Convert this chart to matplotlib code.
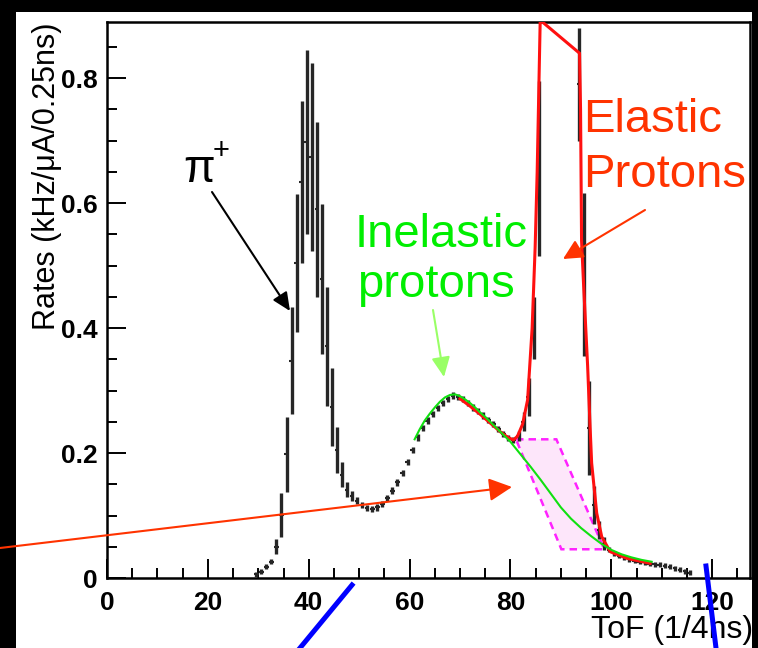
import numpy as np
import matplotlib
matplotlib.use("Agg")
import matplotlib.pyplot as plt
from matplotlib.patches import Rectangle, Polygon
from matplotlib.lines import Line2D
from matplotlib.ticker import MultipleLocator

plt.rcParams['font.family'] = ['Liberation Sans', 'DejaVu Sans']

# ---- data ----
# bin centres (1/4 ns bins)
tof_bins = np.arange(29, 116) + 0.6

rates = [0.006, 0.010, 0.018, 0.026, 0.050, 0.101, 0.198, 0.348, 0.504, 0.634,
         0.698, 0.674, 0.590, 0.478, 0.371, 0.274, 0.205, 0.165, 0.141, 0.131,
         0.124, 0.117, 0.112, 0.110, 0.113, 0.119, 0.128, 0.140, 0.153, 0.168,
         0.186, 0.205, 0.225, 0.240, 0.252, 0.262, 0.272, 0.280, 0.287, 0.292,
         0.290, 0.286, 0.280, 0.273, 0.267, 0.260, 0.253, 0.246, 0.238, 0.231,
         0.224, 0.221, 0.228, 0.250, 0.290, 0.400, 0.655,
         np.nan, np.nan, np.nan, np.nan, np.nan, np.nan, np.nan,   # off scale
         0.790, 0.486, 0.240, 0.117, 0.077, 0.055, 0.045, 0.040, 0.036, 0.033,
         0.030, 0.028, 0.026, 0.025, 0.023, 0.022, 0.021, 0.020, 0.018, 0.016,
         0.0135, 0.011, 0.0085]

rate_err = [0.004, 0.004, 0.004, 0.004, 0.012, 0.035, 0.060, 0.085, 0.110, 0.130,
            0.147, 0.150, 0.140, 0.120, 0.095, 0.062, 0.037, 0.020, 0.012, 0.008,
            0.005, 0.005, 0.005, 0.005, 0.005, 0.005, 0.005, 0.005, 0.005, 0.005,
            0.005, 0.005, 0.005, 0.005, 0.005, 0.005, 0.005, 0.005, 0.005, 0.005,
            0.005, 0.005, 0.005, 0.005, 0.005, 0.005, 0.005, 0.005, 0.005, 0.005,
            0.005, 0.005, 0.008, 0.015, 0.030, 0.050, 0.140,
            np.nan, np.nan, np.nan, np.nan, np.nan, np.nan, np.nan,
            0.090, 0.130, 0.075, 0.030, 0.015, 0.010, 0.004, 0.004, 0.004, 0.004,
            0.004, 0.004, 0.004, 0.004, 0.004, 0.004, 0.004, 0.004, 0.004, 0.004,
            0.004, 0.004, 0.004]

# elastic fit (red)
elastic_x = [70, 72, 74, 76, 78, 79.5, 80.6, 81.4, 82.4, 83.4, 84.3, 84.9, 85.3, 85.9,
             93.7, 93.9, 94.1, 94.5, 95.3, 95.8, 96.1, 97.1, 98.1, 99.8, 103.1, 107.7]
elastic_y = [0.287, 0.275, 0.262, 0.248, 0.234, 0.225, 0.221, 0.227, 0.246, 0.285, 0.40,
             0.53, 0.65, 0.893, 0.84, 0.75, 0.54, 0.47, 0.34, 0.24, 0.184, 0.104,
             0.066, 0.042, 0.0315, 0.0235]

# inelastic fit (green)
inel_x = [61, 62, 63, 64, 65, 66, 67, 68, 69, 70, 71, 72, 73, 74, 75, 76, 77, 78, 79, 80,
          82, 84, 86, 88, 90, 92, 94, 96, 98, 100, 102, 104, 106, 108]
inel_y = [0.222, 0.238, 0.252, 0.263, 0.273, 0.282, 0.289, 0.293, 0.294, 0.291, 0.286,
          0.280, 0.273, 0.265, 0.258, 0.250, 0.242, 0.234, 0.226, 0.218, 0.198, 0.178,
          0.157, 0.135, 0.113, 0.095, 0.080, 0.067, 0.055, 0.045, 0.038, 0.033, 0.029,
          0.026]

# uncertainty band under the elastic peak (magenta)
band_x = [81.1, 89.1, 98.6, 90.1]
band_y = [0.222, 0.222, 0.046, 0.046]

W, H = 758, 648


def fx(x):
    return x / W


def fy(y):
    return 1 - y / H


fig = plt.figure(figsize=(W / 100, H / 100), dpi=100)
fig.patch.set_facecolor("black")
fig.add_artist(Rectangle((16 / W, 0), 736 / W, 636 / H, transform=fig.transFigure,
                         facecolor="white", edgecolor="none", zorder=-5))

ax = fig.add_axes([107 / W, 70 / H, 643 / W, 556 / H])
ax.set_xlim(0, 127.5)
ax.set_ylim(0, 0.89)

# band
ax.add_patch(Polygon(list(zip(band_x, band_y)), closed=True, facecolor="#fde6fa",
                     edgecolor="#ff22ff", linestyle=(0, (3, 2)), lw=1.8, zorder=2))

# data (ROOT style crosses)
ax.errorbar(tof_bins, rates, yerr=rate_err, fmt="none", ecolor="#262626",
            elinewidth=2.4, capsize=0, zorder=3)
ax.errorbar(tof_bins, rates, xerr=0.45, fmt="none", ecolor="#262626",
            elinewidth=1.5, capsize=0, zorder=3)

# fits
ax.plot(elastic_x, elastic_y, color="#ff1010", lw=2.2, zorder=4)
ax.plot(inel_x, inel_y, color="#10e010", lw=1.5, zorder=5)

# axes style
for s in ax.spines.values():
    s.set_linewidth(1.8)
ax.xaxis.set_major_locator(MultipleLocator(20))
ax.xaxis.set_minor_locator(MultipleLocator(5))
ax.yaxis.set_major_locator(MultipleLocator(0.2))
ax.yaxis.set_minor_locator(MultipleLocator(0.05))
ax.tick_params(which="both", direction="in", top=False, right=False, width=1.4,
               labelsize=19)
ax.tick_params(which="major", length=14)
ax.tick_params(which="minor", length=7)
ax.tick_params(axis="x", pad=9)
ax.tick_params(axis="y", pad=7)
ax.set_yticks([0, 0.2, 0.4, 0.6, 0.8])
ax.set_yticklabels(["0", "0.2", "0.4", "0.6", "0.8"], fontweight="bold")
ax.set_xticks([0, 20, 40, 60, 80, 100, 120])
ax.set_xticklabels(["0", "20", "40", "60", "80", "100", "120"], fontweight="bold")

# axis titles
fig.text(fx(47), fy(22), "Rates (kHz/\u03bcA/0.25ns)", rotation=90, ha="center", va="top",
         fontsize=22)
fig.text(fx(753), fy(638), "ToF (1/4ns)", ha="right", va="baseline", fontsize=23)

# labels
fig.text(fx(183), fy(182), "\u03c0", fontsize=33, color="black", va="baseline")
fig.text(fx(213), fy(159), "+", fontsize=21, color="black", va="baseline")
fig.text(fx(355), fy(247), "Inelastic", fontsize=34, color="#00ee00", va="baseline")
fig.text(fx(357), fy(297), "protons", fontsize=34, color="#00ee00", va="baseline")
fig.text(fx(583), fy(132), "Elastic", fontsize=34, color="#ff3300", va="baseline")
fig.text(fx(583), fy(187), "Protons", fontsize=34, color="#ff3300", va="baseline")


def arrow(x0, y0, x1, y1, color, lw=1.5, hl=0.55, hw=0.25):
    ax.annotate("", xy=(fx(x1), fy(y1)), xycoords="figure fraction",
                xytext=(fx(x0), fy(y0)), textcoords="figure fraction",
                arrowprops=dict(arrowstyle="-|>,head_length=%s,head_width=%s" % (hl, hw),
                                color=color, lw=lw, shrinkA=0, shrinkB=0,
                                mutation_scale=20),
                annotation_clip=False, zorder=6)


arrow(212, 192, 290, 311, "black")
arrow(433, 310, 444, 377, "#99ff66", hl=0.6, hw=0.28)
arrow(645, 210, 563, 259, "#ff3300", hl=0.6, hw=0.3)
arrow(0, 548, 512, 487, "#ff3300", hl=0.7, hw=0.35)

# blue strokes
fig.add_artist(Line2D([fx(300), fx(352)], [fy(648), fy(585)], transform=fig.transFigure,
                      color="#0000ff", lw=3.6, zorder=10))
fig.add_artist(Line2D([fx(706), fx(716)], [fy(566), fy(648)], transform=fig.transFigure,
                      color="#0000ff", lw=3.6, zorder=10))

fig.savefig("out.png", dpi=100, facecolor=fig.get_facecolor())
